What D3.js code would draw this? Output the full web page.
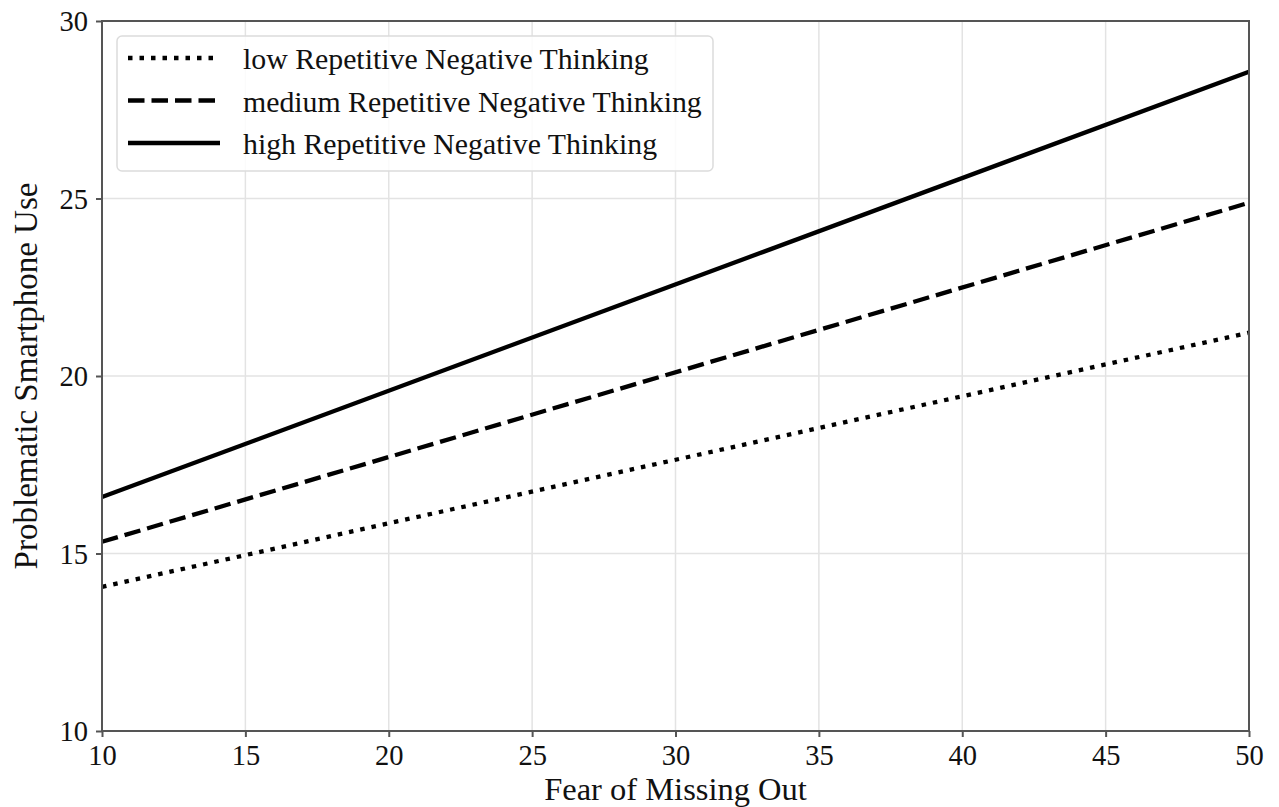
<!DOCTYPE html>
<html><head><meta charset="utf-8">
<script src="https://cdn.jsdelivr.net/npm/d3@7"></script>
<style>body{margin:0;background:#fff}svg{display:block}text{font-family:"Liberation Serif","Times New Roman",serif;fill:#111}</style>
</head><body>
<svg id="c" width="1279" height="807"></svg>
<script>
const xValues = [10, 50];
const lowRNT = [14.06, 21.22];
const mediumRNT = [15.33, 24.88];
const highRNT = [16.59, 28.57];
const seriesNames = ["low Repetitive Negative Thinking", "medium Repetitive Negative Thinking", "high Repetitive Negative Thinking"];
const xTicks = [10, 15, 20, 25, 30, 35, 40, 45, 50];
const yTicks = [10, 15, 20, 25, 30];
const xLabel = "Fear of Missing Out";
const yLabel = "Problematic Smartphone Use";

const svg = d3.select("#c");
const L = 102, R = 1249, T = 21, B = 731;
const x = d3.scaleLinear().domain([10, 50]).range([L, R]);
const y = d3.scaleLinear().domain([10, 30]).range([B, T]);

// grid
svg.append("g").selectAll("line").data(xTicks).join("line")
  .attr("x1", d => x(d)).attr("x2", d => x(d)).attr("y1", T).attr("y2", B)
  .attr("stroke", "#e3e3e3").attr("stroke-width", 1.5);
svg.append("g").selectAll("line").data(yTicks).join("line")
  .attr("y1", d => y(d)).attr("y2", d => y(d)).attr("x1", L).attr("x2", R)
  .attr("stroke", "#e3e3e3").attr("stroke-width", 1.5);

const styles = [
  {data: lowRNT, dash: "4.5,7"},
  {data: mediumRNT, dash: "16.5,7"},
  {data: highRNT, dash: null}
];
const line = d3.line().x(d => x(d[0])).y(d => y(d[1]));
const g = svg.append("g");
styles.forEach(s => {
  g.append("path").datum(xValues.map((v, i) => [v, s.data[i]]))
    .attr("d", line).attr("fill", "none").attr("stroke", "#000")
    .attr("stroke-width", 4.3).attr("stroke-linecap", "butt")
    .attr("stroke-dasharray", s.dash);
});

// axes
const xAxis = d3.axisBottom(x).tickValues(xTicks).tickSize(6).tickPadding(8).tickFormat(d3.format("d"));
const yAxis = d3.axisLeft(y).tickValues(yTicks).tickSize(6).tickPadding(8).tickFormat(d3.format("d"));
const gx = svg.append("g").attr("transform", `translate(0,${B})`).call(xAxis);
const gy = svg.append("g").attr("transform", `translate(${L},0)`).call(yAxis);
[gx, gy].forEach(a => {
  a.select(".domain").remove();
  a.selectAll(".tick line").attr("stroke", "#555").attr("stroke-width", 2);
  a.selectAll(".tick text").attr("font-size", 28.5).attr("fill", "#111")
    .style("font-family", '"Liberation Serif", serif');
});
gx.selectAll(".tick text").attr("dy", "0.71em");
gy.selectAll(".tick text").attr("dy", "0.34em");

// frame
svg.append("rect").attr("x", L).attr("y", T).attr("width", R - L).attr("height", B - T)
  .attr("fill", "none").attr("stroke", "#555").attr("stroke-width", 2);

// labels
svg.append("text").attr("x", (L + R) / 2).attr("y", 800).attr("text-anchor", "middle")
  .attr("font-size", 32.5).text(xLabel);
svg.append("text").attr("transform", `translate(37,${(T + B) / 2}) rotate(-90)`)
  .attr("text-anchor", "middle").attr("font-size", 33).text(yLabel);

// legend
const lg = svg.append("g");
lg.append("rect").attr("x", 117).attr("y", 36).attr("width", 596).attr("height", 135)
  .attr("rx", 5).attr("fill", "#fff").attr("fill-opacity", 0.85)
  .attr("stroke", "#dcdcdc").attr("stroke-width", 1.5);
const rowY = d3.scalePoint().domain(seriesNames).range([58, 143]);
seriesNames.forEach((n, i) => {
  lg.append("line").attr("x1", 128).attr("x2", 220).attr("y1", rowY(n)).attr("y2", rowY(n))
    .attr("stroke", "#000").attr("stroke-width", 4.3).attr("stroke-dasharray", styles[i].dash);
  lg.append("text").attr("x", 243).attr("y", rowY(n) + 11).attr("font-size", 29.8).text(n);
});
</script>
</body></html>
